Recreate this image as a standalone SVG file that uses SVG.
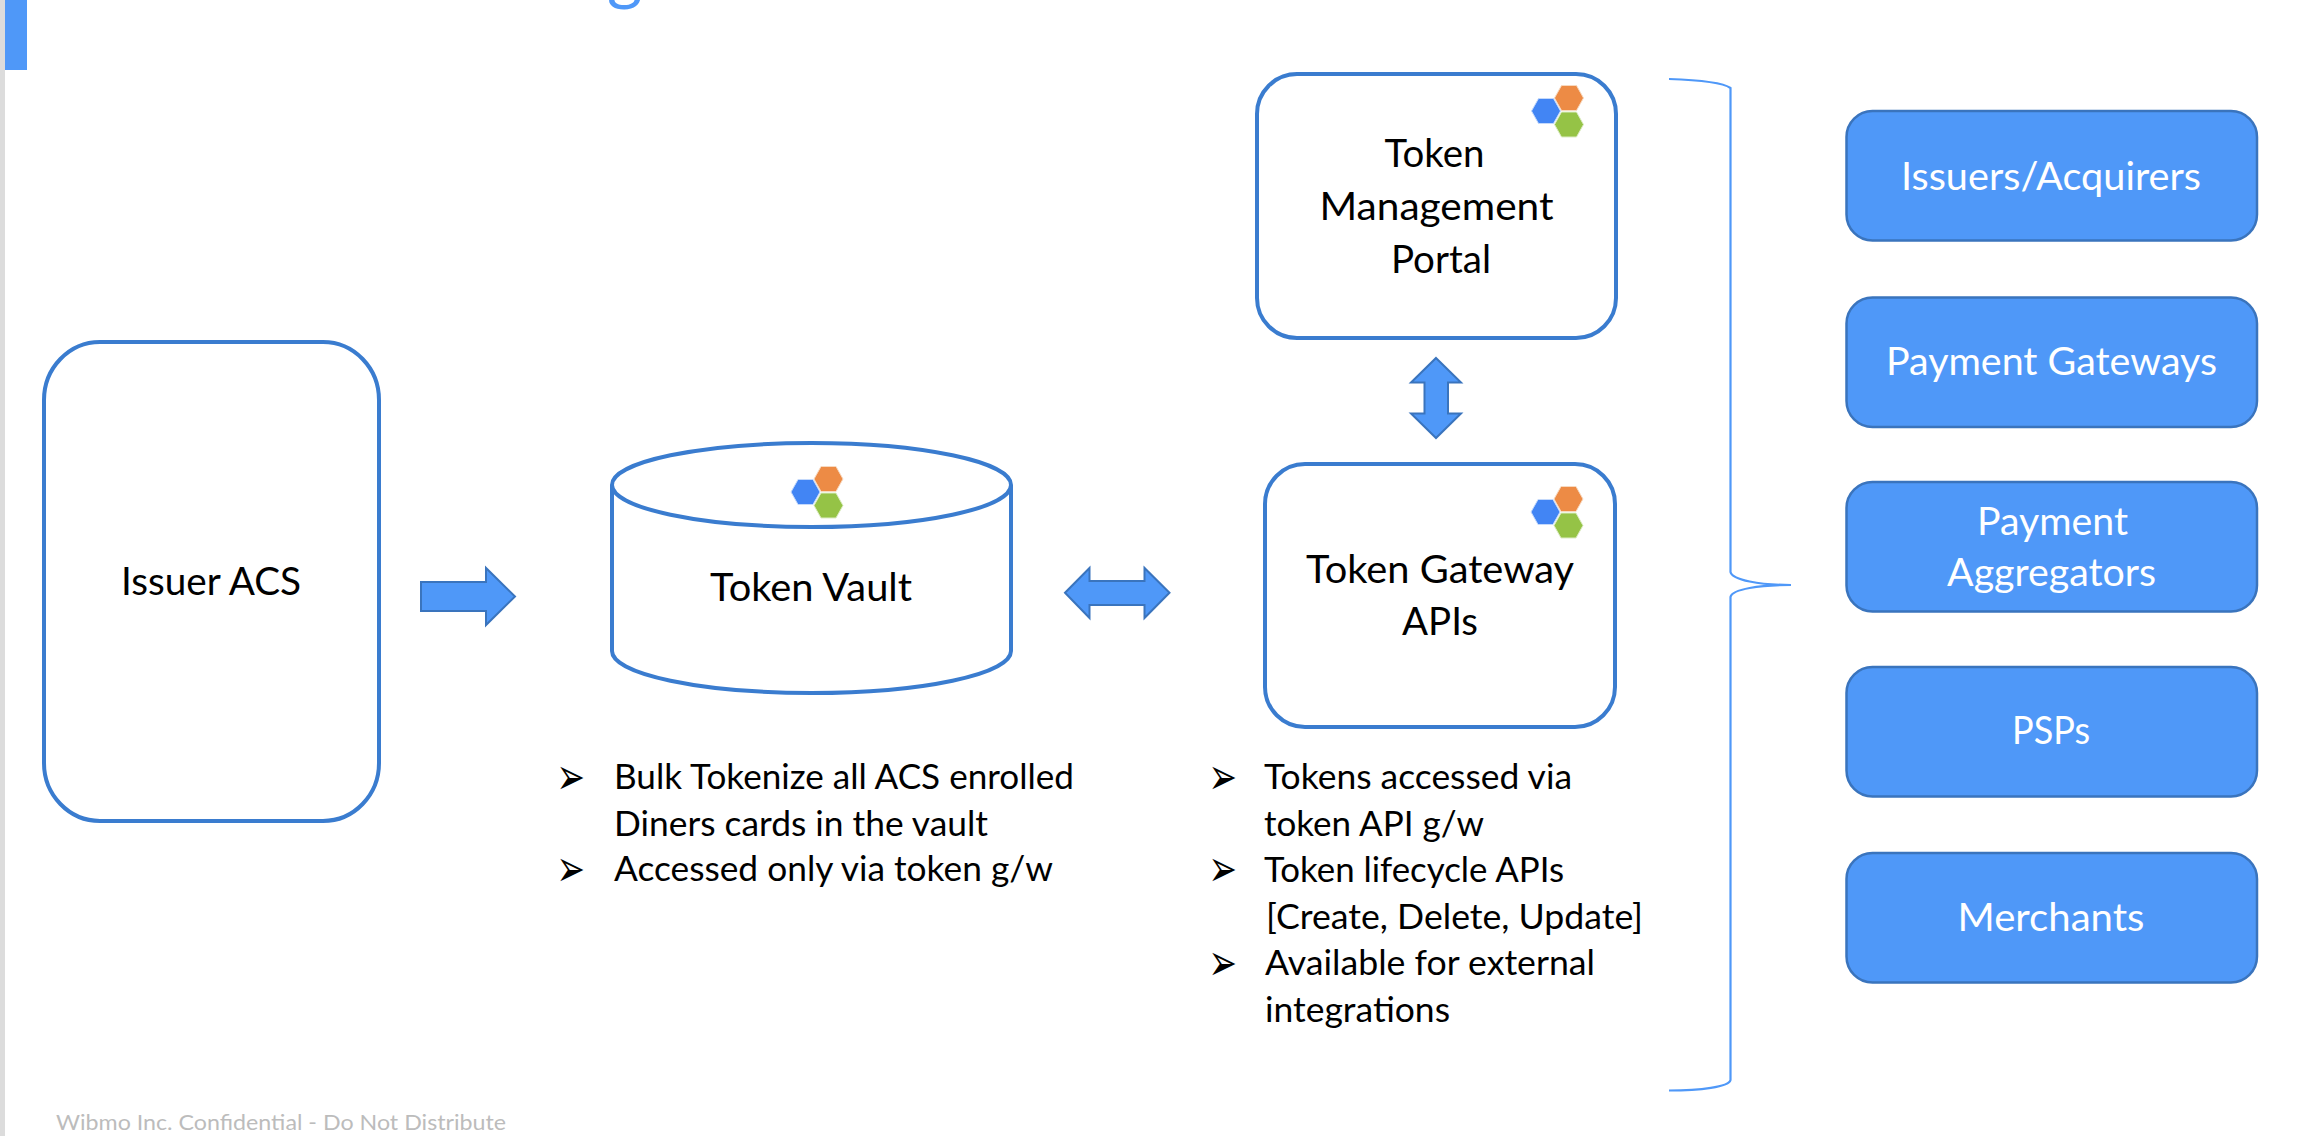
<svg xmlns="http://www.w3.org/2000/svg" width="2322" height="1136" viewBox="0 0 2322 1136">
<style>
text{font-family:"Lato","Liberation Sans",sans-serif}
.t{font-size:38px;fill:#000}
.w{font-size:38px;fill:#fff}
.b{font-size:34px;fill:#000}
.m{font-family:"DejaVu Sans",sans-serif;font-size:34px;fill:#000}
.box{fill:#fff;stroke:#3a7ccf;stroke-width:4}
.blue{fill:#4f98f8;stroke:#3a74bd;stroke-width:2.5}
.arr{fill:#4f98f8;stroke:#3a74bd;stroke-width:2}
.brace{fill:none;stroke:#4f98f8;stroke-width:2.2}
.o{fill:#ed8b45;stroke:#f7d9c0;stroke-width:1}
.g{fill:#95c346;stroke:#dcecc4;stroke-width:1}
.l{fill:#4285f4;stroke:#c4d9fb;stroke-width:1}
</style>
<defs>
<polygon id="hex" points="-14.5,0 -7.5,-12.5 7.5,-12.5 14.5,0 7.5,12.5 -7.5,12.5"/>
<g id="logo">
<use href="#hex" class="l" x="0" y="0"/>
<use href="#hex" class="o" x="23" y="-13"/>
<use href="#hex" class="g" x="23" y="13.5"/>
</g>
</defs>
<rect width="2322" height="1136" fill="#fff"/>
<rect id="edge" x="0" y="0" width="5" height="1136" fill="#dcdcdc"/>
<g id="title">
<rect x="5" y="0" width="22" height="70" fill="#4f98f8"/>
<text x="607" y="-3" font-size="68" fill="#4f98f8">g</text>
</g>
<g id="connectors">
<polygon id="arrow-acs-vault" class="arr" points="421,582 486,582 486,568 515,596.500 486,625 486,611 421,611"/>
<polygon id="arrow-vault-gateway" class="arr" points="1065,592.700 1089.500,568 1089.500,581 1144.500,581 1144.500,568 1169.500,592.700 1144.500,618 1144.500,605 1089.500,605 1089.500,618"/>
<polygon id="arrow-portal-gateway" class="arr" points="1436,358 1461,382.500 1448,382.500 1448,413.500 1461,413.500 1436,438 1411,413.500 1424.500,413.500 1424.500,382.500 1411,382.500"/>
<path id="brace" class="brace" d="M1669,79 C1700,80 1722,82 1730.500,88 L1730.500,572 C1732,580 1760,585 1791,585 C1760,585 1732,589 1730.500,597 L1730.500,1080 C1729,1087 1700,1090.500 1669,1090.500"/>
</g>
<g id="issuer-acs">
<rect class="box" x="44" y="342" width="335" height="479" rx="56" ry="58"/>
<text class="t" x="121" y="595" textLength="180" lengthAdjust="spacingAndGlyphs">Issuer ACS</text>
</g>
<g id="token-vault">
<path class="box" d="M612,485 L612,651 A199.500,42 0 0 0 1011,651 L1011,485 A199.500,42 0 0 0 612,485 A199.500,42 0 0 0 1011,485"/>
<use href="#logo" x="805.500" y="492"/>
<text class="t" x="710" y="601" textLength="202" lengthAdjust="spacingAndGlyphs">Token Vault</text>
</g>
<g id="token-management-portal">
<rect class="box" x="1257" y="74" width="359" height="264" rx="40"/>
<use href="#logo" x="1546" y="111"/>
<text class="t" x="1384.500" y="167" textLength="100" lengthAdjust="spacingAndGlyphs">Token</text>
<text class="t" x="1319.500" y="220" textLength="234" lengthAdjust="spacingAndGlyphs">Management</text>
<text class="t" x="1391" y="273" textLength="100" lengthAdjust="spacingAndGlyphs">Portal</text>
</g>
<g id="token-gateway-apis">
<rect class="box" x="1265" y="464" width="350" height="263" rx="40"/>
<use href="#logo" x="1545.500" y="512"/>
<text class="t" x="1306" y="583" textLength="268" lengthAdjust="spacingAndGlyphs">Token Gateway</text>
<text class="t" x="1402" y="635" textLength="76" lengthAdjust="spacingAndGlyphs">APIs</text>
</g>
<g id="issuers-acquirers">
<rect class="blue" x="1846.500" y="111" width="410.500" height="129.500" rx="26"/>
<text class="w" x="1901" y="190" textLength="300" lengthAdjust="spacingAndGlyphs">Issuers/Acquirers</text>
</g>
<g id="payment-gateways">
<rect class="blue" x="1846.500" y="297.500" width="410.500" height="129.500" rx="26"/>
<text class="w" x="1886" y="375" textLength="331" lengthAdjust="spacingAndGlyphs">Payment Gateways</text>
</g>
<g id="payment-aggregators">
<rect class="blue" x="1846.500" y="482" width="410.500" height="129.500" rx="26"/>
<text class="w" x="1977" y="534.500" textLength="151" lengthAdjust="spacingAndGlyphs">Payment</text>
<text class="w" x="1947" y="586" textLength="209" lengthAdjust="spacingAndGlyphs">Aggregators</text>
</g>
<g id="psps">
<rect class="blue" x="1846.500" y="667" width="410.500" height="129.500" rx="26"/>
<text class="w" x="2012" y="744" textLength="78" lengthAdjust="spacingAndGlyphs">PSPs</text>
</g>
<g id="merchants">
<rect class="blue" x="1846.500" y="853" width="410.500" height="129.500" rx="26"/>
<text class="w" x="1957.500" y="931" textLength="187" lengthAdjust="spacingAndGlyphs">Merchants</text>
</g>
<g id="vault-notes">
<text class="m" transform="translate(556.500,793.500) scale(1,1.500)">➢</text>
<text class="b" x="614" y="789" textLength="460" lengthAdjust="spacingAndGlyphs">Bulk Tokenize all ACS enrolled</text>
<text class="b" x="614" y="836" textLength="374" lengthAdjust="spacingAndGlyphs">Diners cards in the vault</text>
<text class="m" transform="translate(556.500,885.500) scale(1,1.500)">➢</text>
<text class="b" x="614" y="881" textLength="439" lengthAdjust="spacingAndGlyphs">Accessed only via token g/w</text>
</g>
<g id="gateway-notes">
<text class="m" transform="translate(1208.500,793.500) scale(1,1.500)">➢</text>
<text class="b" x="1264" y="789" textLength="308" lengthAdjust="spacingAndGlyphs">Tokens accessed via</text>
<text class="b" x="1264" y="836" textLength="220" lengthAdjust="spacingAndGlyphs">token API g/w</text>
<text class="m" transform="translate(1208.500,885.500) scale(1,1.500)">➢</text>
<text class="b" x="1264" y="882" textLength="300" lengthAdjust="spacingAndGlyphs">Token lifecycle APIs</text>
<text class="b" x="1266" y="929" textLength="377" lengthAdjust="spacingAndGlyphs">[Create, Delete, Update]</text>
<text class="m" transform="translate(1208.500,979.500) scale(1,1.500)">➢</text>
<text class="b" x="1265" y="975" textLength="330" lengthAdjust="spacingAndGlyphs">Available for external</text>
<text class="b" x="1265" y="1022" textLength="185" lengthAdjust="spacingAndGlyphs">integrations</text>
</g>
<text id="footer" x="56" y="1130" font-size="21" fill="#bcbcbc" textLength="450" lengthAdjust="spacingAndGlyphs">Wibmo Inc. Confidential - Do Not Distribute</text>
</svg>
